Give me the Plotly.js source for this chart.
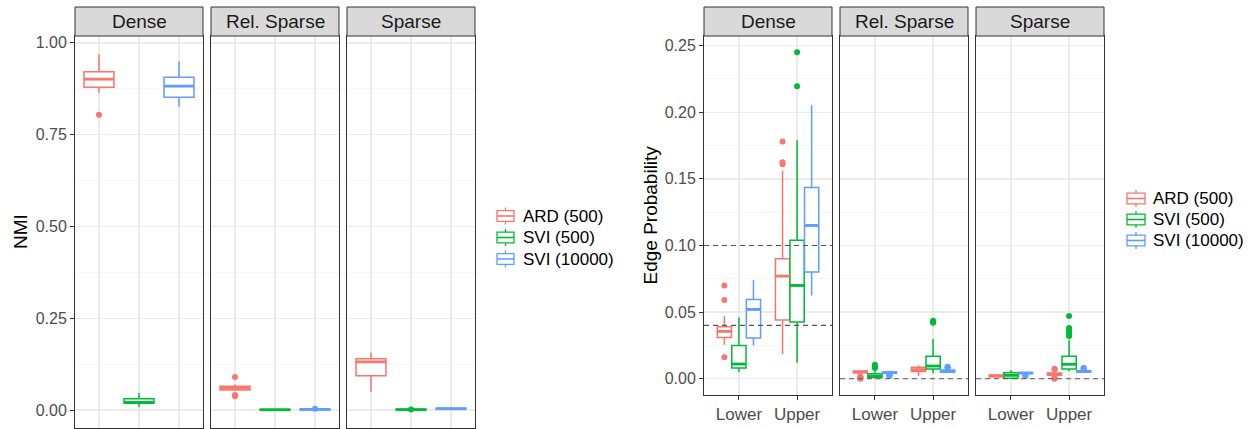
<!DOCTYPE html>
<html>
<head>
<meta charset="utf-8">
<script src="https://cdn.plot.ly/plotly-3.0.1.min.js"></script>
<style>html,body{margin:0;padding:0;background:#fff;}#chart{width:1257px;height:429px;}</style>
</head>
<body>
<div id="chart"></div>
<script>
// ---------------- DATA ----------------
const facets = ['Dense', 'Rel. Sparse', 'Sparse'];
const methods = ['ARD (500)', 'SVI (500)', 'SVI (10000)'];
const methodColors = ['#F8766D', '#00BA38', '#619CFF'];

// Left chart: NMI, indexed [facet][method]
const nmiLower = [[0.865, 0.009, 0.826], [0.052, 0.000, 0.0005], [0.050, 0.000, 0.002]];
const nmiQ1    = [[0.879, 0.019, 0.852], [0.055, 0.0005, 0.0012], [0.094, 0.0008, 0.003]];
const nmiMed   = [[0.901, 0.021, 0.882], [0.060, 0.0012, 0.0022], [0.1315, 0.0015, 0.004]];
const nmiQ3    = [[0.921, 0.031, 0.906], [0.065, 0.002, 0.003], [0.1397, 0.0022, 0.005]];
const nmiUpper = [[0.969, 0.047, 0.950], [0.070, 0.003, 0.004], [0.156, 0.003, 0.006]];
const nmiOut   = [[[0.804], [], []], [[0.090, 0.041, 0.038], [], [0.004]], [[], [0.002], []]];
const nmiTicks = [0, 0.25, 0.5, 0.75, 1.0];
const nmiTickText = ['0.00', '0.25', '0.50', '0.75', '1.00'];

// Right chart: Edge probability, indexed [facet][group][method]
const groups = ['Lower', 'Upper'];
const epLower = [
  [[0.0255, 0.005, 0.025], [0.0185, 0.012, 0.0625]],
  [[0.003, 0.000, 0.0035], [0.002, 0.004, 0.0045]],
  [[0.0008, 0.000, 0.0035], [0.0008, 0.0055, 0.0045]]
];
const epQ1 = [
  [[0.031, 0.008, 0.0305], [0.044, 0.0425, 0.080]],
  [[0.0045, 0.0008, 0.004], [0.0053, 0.0073, 0.0048]],
  [[0.0015, 0.0003, 0.0038], [0.0025, 0.0073, 0.0048]]
];
const epMed = [
  [[0.0355, 0.011, 0.052], [0.077, 0.070, 0.115]],
  [[0.005, 0.002, 0.0045], [0.0068, 0.0095, 0.0055]],
  [[0.002, 0.0025, 0.0042], [0.0033, 0.0108, 0.0053]]
];
const epQ3 = [
  [[0.039, 0.025, 0.0595], [0.090, 0.104, 0.1435]],
  [[0.0058, 0.0037, 0.005], [0.0085, 0.0168, 0.0065]],
  [[0.0028, 0.0045, 0.0046], [0.0042, 0.0168, 0.006]]
];
const epUpper = [
  [[0.047, 0.046, 0.074], [0.156, 0.179, 0.2055]],
  [[0.006, 0.0055, 0.0052], [0.010, 0.0298, 0.0072]],
  [[0.0035, 0.0065, 0.005], [0.0055, 0.029, 0.0065]]
];
const epOut = [
  [[[0.070, 0.059, 0.016], [], []], [[0.178, 0.1625, 0.161], [0.245, 0.2195], []]],
  [[[0.0015, 0.001, 0.0005, 0.0], [0.0105, 0.009, 0.008], [0.0025, 0.002, 0.003]], [[], [0.0435, 0.0425, 0.042], [0.0085, 0.009, 0.008]]],
  [[[], [], [0.002, 0.0025]], [[0.0075, 0.0068, 0.0003, 0.0], [0.047, 0.038, 0.036, 0.034, 0.032], [0.0078, 0.008, 0.0075]]]
];
const epHlines = [[0.10, 0.04], [0.0], [0.0]];
const epTicks = [0, 0.05, 0.10, 0.15, 0.20, 0.25];
const epTickText = ['0.00', '0.05', '0.10', '0.15', '0.20', '0.25'];

// ---------------- LAYOUT HELPERS ----------------
const W = 1257, H = 429;
const FONT = 'Liberation Sans, Arial, sans-serif';
const px = x => x / W;
const py = y => 1 - y / H;
const leftPanels = [[75, 203], [211, 339], [347, 475]];
const rightPanels = [[704, 832], [840, 968], [976, 1104]];
const stripTop = 7, stripBot = 36;
const leftBottom = 428, rightBottom = 395;

const traces = [];
const layout = {
  width: W, height: H, autosize: false,
  margin: {l: 0, r: 0, t: 0, b: 0, pad: 0},
  paper_bgcolor: '#ffffff', plot_bgcolor: '#ffffff',
  showlegend: false,
  font: {family: FONT, color: '#4D4D4D'},
  shapes: [], annotations: []
};

function axisName(i) { return i === 0 ? '' : String(i + 1); }

function addAxes(i, panel, bottom, xrange, xtickvals, xticktext, showXLabels, yrange, yticks, yticktext, first, minorStep) {
  const n = axisName(i);
  layout['xaxis' + n] = {
    domain: [px(panel[0]), px(panel[1])], anchor: 'y' + n,
    range: xrange, tickmode: 'array', tickvals: xtickvals, ticktext: xticktext,
    showticklabels: showXLabels, ticks: showXLabels ? 'outside' : '', ticklen: 4, tickwidth: 1, tickcolor: '#333333',
    tickfont: {family: FONT, size: 17, color: '#4D4D4D'},
    showgrid: true, gridcolor: '#EBEBEB', gridwidth: 1.4, zeroline: false,
    showline: true, mirror: true, linecolor: '#333333', linewidth: 1, fixedrange: true
  };
  layout['yaxis' + n] = {
    domain: [py(bottom), py(stripBot)], anchor: 'x' + n,
    range: yrange, tickmode: 'array', tickvals: yticks, ticktext: yticktext,
    showticklabels: first, ticks: first ? 'outside' : '', ticklen: 4, tickwidth: 1, tickcolor: '#333333',
    tickfont: {family: FONT, size: 16, color: '#4D4D4D'},
    showgrid: true, gridcolor: '#EBEBEB', gridwidth: 1.4, zeroline: false,
    minor: {dtick: minorStep, tick0: minorStep / 2, showgrid: true, gridcolor: '#F2F2F2', gridwidth: 0.8, ticks: ''},
    showline: true, mirror: true, linecolor: '#333333', linewidth: 1, fixedrange: true
  };
  // strip
  layout.shapes.push({type: 'rect', xref: 'x' + n + ' domain', yref: 'paper', x0: 0, x1: 1, y0: py(stripBot), y1: py(stripTop),
    fillcolor: '#D9D9D9', line: {color: '#333333', width: 1}, layer: 'above'});
}

function addBox(axisIdx, pos, width, color, lf, q1, med, q3, uf, outs) {
  const n = axisName(axisIdx);
  traces.push({
    type: 'box', orientation: 'v', xaxis: 'x' + n, yaxis: 'y' + n,
    x: [pos], q1: [q1], median: [med], q3: [q3], lowerfence: [lf], upperfence: [uf],
    width: width, boxpoints: false, whiskerwidth: 0,
    line: {color: color, width: 1.5}, fillcolor: '#ffffff', hoverinfo: 'skip'
  });
  traces.push({
    type: 'scatter', mode: 'lines', xaxis: 'x' + n, yaxis: 'y' + n,
    x: [pos - width / 2, pos + width / 2], y: [med, med],
    line: {color: color, width: 2.8}, hoverinfo: 'skip'
  });
  if (outs.length) {
    traces.push({
      type: 'scatter', mode: 'markers', xaxis: 'x' + n, yaxis: 'y' + n,
      x: outs.map(() => pos), y: outs,
      marker: {color: color, size: 6, line: {width: 0}}, hoverinfo: 'skip'
    });
  }
}

// ---------------- LEFT CHART (NMI) ----------------
const nmiRange = [-0.0485, 1.0185];
facets.forEach((f, fi) => {
  addAxes(fi, leftPanels[fi], leftBottom, [0.4, 3.6], [1, 2, 3], methods, false, nmiRange, nmiTicks, nmiTickText, fi === 0, 0.25);
  methods.forEach((m, mi) => {
    addBox(fi, mi + 1, 0.75, methodColors[mi], nmiLower[fi][mi], nmiQ1[fi][mi], nmiMed[fi][mi], nmiQ3[fi][mi], nmiUpper[fi][mi], nmiOut[fi][mi]);
  });
});

// ---------------- RIGHT CHART (Edge probability) ----------------
const epRange = [-0.01225, 0.25725];
const dodge = 0.25;
facets.forEach((f, fi) => {
  const ai = fi + 3;
  addAxes(ai, rightPanels[fi], rightBottom, [0.4, 2.6], [1, 2], groups, true, epRange, epTicks, epTickText, fi === 0, 0.05);
  groups.forEach((g, gi) => {
    methods.forEach((m, mi) => {
      const pos = gi + 1 + (mi - 1) * dodge;
      addBox(ai, pos, 0.245, methodColors[mi], epLower[fi][gi][mi], epQ1[fi][gi][mi], epMed[fi][gi][mi], epQ3[fi][gi][mi], epUpper[fi][gi][mi], epOut[fi][gi][mi]);
    });
  });
  epHlines[fi].forEach(h => {
    const n = axisName(ai);
    layout.shapes.push({type: 'line', xref: 'x' + n + ' domain', yref: 'y' + n, x0: 0, x1: 1, y0: h, y1: h,
      line: {color: '#555555', width: 1.1, dash: '5px,4px'}, layer: 'above'});
  });
});

// strip labels
facets.forEach((f, fi) => {
  [fi, fi + 3].forEach(ai => {
    layout.annotations.push({xref: 'x' + axisName(ai) + ' domain', yref: 'paper', x: 0.5, y: py((stripTop + stripBot) / 2),
      xanchor: 'center', yanchor: 'middle', text: f, showarrow: false,
      font: {family: FONT, size: 19, color: '#1A1A1A'}});
  });
});

// axis titles
layout.annotations.push({xref: 'paper', yref: 'paper', x: px(20), y: py((stripBot + leftBottom) / 2), text: 'NMI',
  textangle: -90, showarrow: false, xanchor: 'center', yanchor: 'middle', font: {family: FONT, size: 19, color: '#000000'}});
layout.annotations.push({xref: 'paper', yref: 'paper', x: px(650), y: py((stripBot + rightBottom) / 2), text: 'Edge Probability',
  textangle: -90, showarrow: false, xanchor: 'center', yanchor: 'middle', font: {family: FONT, size: 19, color: '#000000'}});

// legends (drawn as keys + text)
function drawLegend(keyX0, keyX1, textX, rows) {
  methods.forEach((m, mi) => {
    const cy = rows[mi], c = methodColors[mi], cx = (keyX0 + keyX1) / 2;
    layout.shapes.push({type: 'rect', xref: 'paper', yref: 'paper', x0: px(keyX0), x1: px(keyX1), y0: py(cy + 5.3), y1: py(cy - 5.3),
      fillcolor: '#ffffff', line: {color: c, width: 1.3}});
    layout.shapes.push({type: 'line', xref: 'paper', yref: 'paper', x0: px(keyX0), x1: px(keyX1), y0: py(cy), y1: py(cy), line: {color: c, width: 1.6}});
    layout.shapes.push({type: 'line', xref: 'paper', yref: 'paper', x0: px(cx), x1: px(cx), y0: py(cy - 8.5), y1: py(cy - 5.3), line: {color: c, width: 1.3}});
    layout.shapes.push({type: 'line', xref: 'paper', yref: 'paper', x0: px(cx), x1: px(cx), y0: py(cy + 5.3), y1: py(cy + 8.5), line: {color: c, width: 1.3}});
    layout.annotations.push({xref: 'paper', yref: 'paper', x: px(textX), y: py(cy), xanchor: 'left', yanchor: 'middle',
      text: m, showarrow: false, font: {family: FONT, size: 17, color: '#000000'}});
  });
}
drawLegend(497, 514, 521, [216, 237.5, 259]);
drawLegend(1127, 1145, 1151, [198.5, 219.5, 240.5]);

Plotly.newPlot('chart', traces, layout, {staticPlot: true, displayModeBar: false});
</script>
</body>
</html>
